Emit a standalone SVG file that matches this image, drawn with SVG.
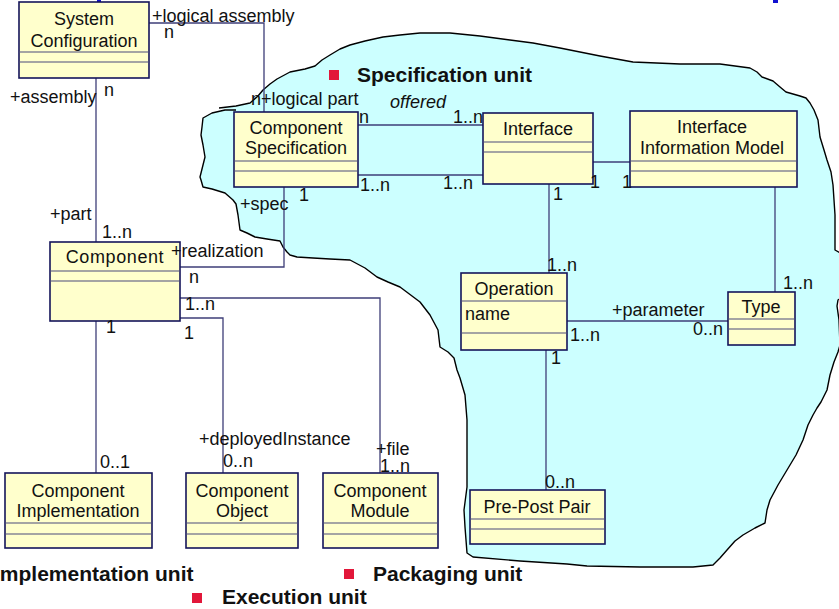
<svg xmlns="http://www.w3.org/2000/svg" width="839" height="609" viewBox="0 0 839 609">
  <style>
    .box { fill: #FFFFCC; stroke: #14145a; stroke-width: 1.6; }
    .sep { stroke: #4a4a7a; stroke-width: 1.2; fill: none; }
    .name { font-family: "Liberation Sans", Arial, sans-serif; font-size: 18px; fill: #111; text-anchor: middle; }
    .attr { font-family: "Liberation Sans", Arial, sans-serif; font-size: 18px; fill: #111; }
    .lbl { font-family: "Liberation Sans", Arial, sans-serif; font-size: 18px; fill: #111; }
    .ital { font-style: italic; }
    .unit { font-family: "Liberation Sans", Arial, sans-serif; font-size: 21px; font-weight: bold; fill: #111; }
    .bullet { fill: #E2173A; }
    .conn { stroke: #3e3e78; stroke-width: 1.3; fill: none; }
    .cloud { fill: #CCFFFF; stroke: #000; stroke-width: 1.4; stroke-linejoin: round; }
  </style>

  <!-- fragments of the page title above the frame -->
  <rect x="97" y="0" width="4" height="2" fill="#1010d0"/>
  <rect x="773" y="0" width="5" height="3" fill="#1010d0"/>

  <!-- Specification unit region -->
  <path class="cloud" d="M219,108 L236,106 L250,103 L258,96 L263,90 L270,84 L277,79 L290,72 L305,69 L315,66 L322,60 L330,55 L340,49 L350,45 L365,41 L383,37 L400,35 L420,33 L450,33 L480,36 L510,40 L533,43 L560,48 L600,56 L633,62 L680,64 L720,64 L750,68 L757,72 L762,77 L773,81 L780,87 L786,92 L800,96 L806,98 L810,103 L814,110 L818,120 L820,137 L824,150 L827,160 L831,172 L833,185 L834,200 L835,215 L835,235 L835,250 L842,254 L846,275 L842,297 L838,300 L837,306 L839,320 L840,345 L838,352 L834,362 L830,375 L827,390 L821,402 L817,408 L813,415 L808,425 L803,440 L796,455 L787,470 L778,485 L770,500 L767,510 L765,523 L755,528 L743,535 L735,541 L727,550 L720,558 L713,565 L693,567 L640,567 L587,566 L567,564 L520,561 L473,557 L467,553 L466,540 L465,527 L464,510 L467,487 L467,460 L467,420 L465,395 L460,378 L457,370 L454,358 L448,352 L440,347 L438,330 L430,315 L420,302 L400,287 L388,282 L377,277 L365,268 L350,260 L330,259 L313,258 L297,257 L290,255 L287,252 L283,247 L280,241 L267,239 L255,237 L247,233 L240,230 L238,215 L236,204 L233,200 L225,193 L212,189 L203,187 L201,180 L200,177 L203,165 L205,157 L203,145 L201,135 L202,127 L203,118 L212,113 L225,110 L236,110"/>

  <!-- connectors -->
  <g id="connectors">
    <path class="conn" d="M149,23 H264 V112"/>
    <path class="conn" d="M96,78 V242"/>
    <path class="conn" d="M358,125 H483"/>
    <path class="conn" d="M358,175 H483"/>
    <path class="conn" d="M593,162 H630"/>
    <path class="conn" d="M549,184 V273"/>
    <path class="conn" d="M775,187 V292"/>
    <path class="conn" d="M567,321 H728"/>
    <path class="conn" d="M546,350 V490"/>
    <path class="conn" d="M284,187 V267 H180"/>
    <path class="conn" d="M180,298 H380 V473"/>
    <path class="conn" d="M180,318 H223 V473"/>
    <path class="conn" d="M96,321 V473"/>
  </g>

  <!-- classes -->
  <g id="system-configuration">
    <rect class="box" x="19" y="2" width="130" height="76"/>
    <path class="sep" d="M19,52 H149 M19,62 H149"/>
    <text class="name" x="84" y="25">System</text>
    <text class="name" x="84" y="47">Configuration</text>
  </g>

  <g id="component-specification">
    <rect class="box" x="234" y="112" width="124" height="75"/>
    <path class="sep" d="M234,161 H358 M234,171 H358"/>
    <text class="name" x="296" y="134">Component</text>
    <text class="name" x="296" y="154">Specification</text>
  </g>

  <g id="interface">
    <rect class="box" x="483" y="113" width="110" height="71"/>
    <path class="sep" d="M483,142 H593 M483,152 H593"/>
    <text class="name" x="538" y="135">Interface</text>
  </g>

  <g id="interface-information-model">
    <rect class="box" x="630" y="111" width="167" height="76"/>
    <path class="sep" d="M630,161 H797 M630,171 H797"/>
    <text class="name" x="712" y="133">Interface</text>
    <text class="name" x="712" y="154">Information Model</text>
  </g>

  <g id="component">
    <rect class="box" x="50" y="242" width="130" height="79"/>
    <path class="sep" d="M50,271 H180 M50,281 H180"/>
    <text class="name" x="115" y="263" letter-spacing="0.6">Component</text>
  </g>

  <g id="operation">
    <rect class="box" x="461" y="273" width="106" height="77"/>
    <path class="sep" d="M461,301 H567 M461,333 H567"/>
    <text class="name" x="514" y="295">Operation</text>
    <text class="attr" x="465" y="320">name</text>
  </g>

  <g id="type">
    <rect class="box" x="728" y="292" width="67" height="53"/>
    <path class="sep" d="M728,319 H795 M728,329 H795"/>
    <text class="name" x="761" y="313">Type</text>
  </g>

  <g id="pre-post-pair">
    <rect class="box" x="470" y="490" width="135" height="54"/>
    <path class="sep" d="M470,519 H605 M470,529 H605"/>
    <text class="name" x="537" y="513">Pre-Post Pair</text>
  </g>

  <g id="component-implementation">
    <rect class="box" x="5" y="473" width="147" height="75"/>
    <path class="sep" d="M5,523 H152 M5,534 H152"/>
    <text class="name" x="78" y="497">Component</text>
    <text class="name" x="78" y="517">Implementation</text>
  </g>

  <g id="component-object">
    <rect class="box" x="186" y="473" width="112" height="75"/>
    <path class="sep" d="M186,523 H298 M186,534 H298"/>
    <text class="name" x="242" y="497">Component</text>
    <text class="name" x="242" y="517">Object</text>
  </g>

  <g id="component-module">
    <rect class="box" x="323" y="473" width="115" height="75"/>
    <path class="sep" d="M323,523 H438 M323,534 H438"/>
    <text class="name" x="380" y="497">Component</text>
    <text class="name" x="380" y="517">Module</text>
  </g>

  <!-- role names and multiplicities -->
  <g id="association-labels">
    <text class="lbl" x="152" y="22">+logical assembly</text>
    <text class="lbl" x="164" y="38">n</text>
    <text class="lbl" x="10" y="103">+assembly</text>
    <text class="lbl" x="104" y="96">n</text>
    <text class="lbl" x="251" y="105">n+logical part</text>
    <text class="lbl ital" x="390" y="108">offered</text>
    <text class="lbl" x="359" y="123">n</text>
    <text class="lbl" x="453" y="123">1..n</text>
    <text class="lbl" x="360" y="191">1..n</text>
    <text class="lbl" x="443" y="189">1..n</text>
    <text class="lbl" x="590" y="188">1</text>
    <text class="lbl" x="622" y="188">1</text>
    <text class="lbl" x="553" y="200">1</text>
    <text class="lbl" x="547" y="271">1..n</text>
    <text class="lbl" x="299" y="201">1</text>
    <text class="lbl" x="240" y="210">+spec</text>
    <text class="lbl" x="50" y="220">+part</text>
    <text class="lbl" x="102" y="238">1..n</text>
    <text class="lbl" x="171" y="257">+realization</text>
    <text class="lbl" x="189" y="283">n</text>
    <text class="lbl" x="185" y="310">1..n</text>
    <text class="lbl" x="106" y="333">1</text>
    <text class="lbl" x="184" y="339">1</text>
    <text class="lbl" x="612" y="316">+parameter</text>
    <text class="lbl" x="570" y="341">1..n</text>
    <text class="lbl" x="693" y="335">0..n</text>
    <text class="lbl" x="551" y="364">1</text>
    <text class="lbl" x="783" y="289">1..n</text>
    <text class="lbl" x="545" y="488">0..n</text>
    <text class="lbl" x="100" y="468">0..1</text>
    <text class="lbl" x="199" y="445">+deployedInstance</text>
    <text class="lbl" x="223" y="467">0..n</text>
    <text class="lbl" x="376" y="455">+file</text>
    <text class="lbl" x="380" y="472">1..n</text>
  </g>

  <!-- unit captions -->
  <g id="unit-captions">
    <rect class="bullet" x="329" y="70" width="10" height="10"/>
    <text class="unit" x="357" y="82">Specification unit</text>
    <text class="unit" x="-6" y="581">Implementation unit</text>
    <rect class="bullet" x="344" y="569" width="10" height="10"/>
    <text class="unit" x="373" y="581">Packaging unit</text>
    <rect class="bullet" x="192" y="593" width="10" height="10"/>
    <text class="unit" x="222" y="604">Execution unit</text>
  </g>
</svg>
